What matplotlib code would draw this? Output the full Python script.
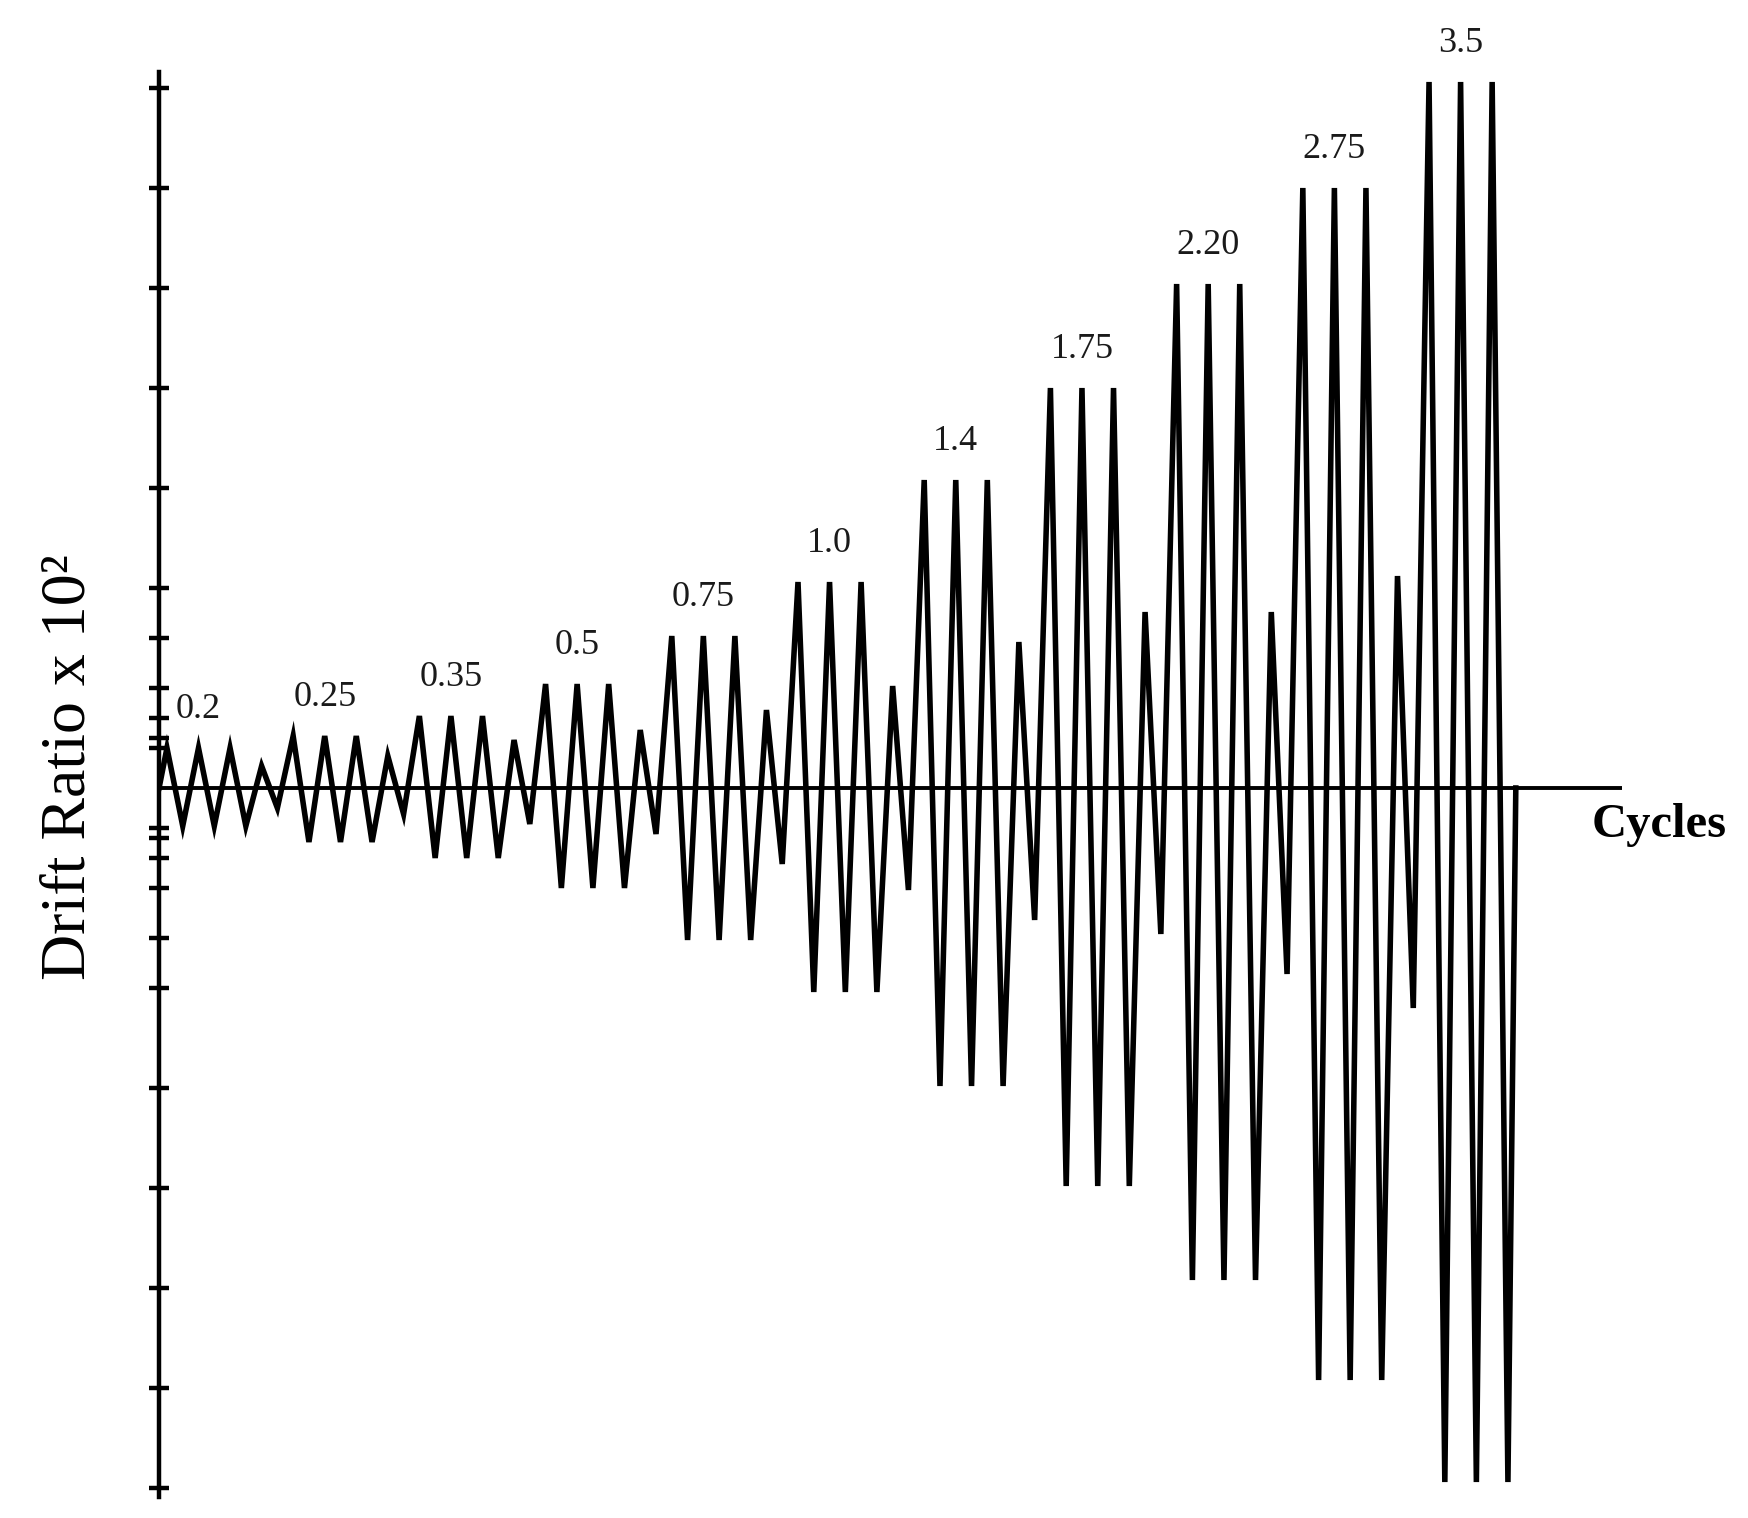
import numpy as np
import matplotlib.pyplot as plt

# --- DATA ---
# drift level labels printed above each group of cycles
level_labels = ['0.2', '0.25', '0.35', '0.5', '0.75', '1.0', '1.4', '1.75', '2.20', '2.75', '3.5']
# amplitude of the three main cycles of each group (as drawn)
main_pos = [0.20, 0.26, 0.36, 0.52, 0.76, 1.03, 1.54, 2.00, 2.52, 3.00, 3.53]
main_neg = [0.19, 0.27, 0.35, 0.50, 0.76, 1.02, 1.49, 1.99, 2.46, 2.96, 3.47]
# amplitude of the small cycle that follows each group (none after the last)
small_pos = [0.11, 0.16, 0.24, 0.29, 0.39, 0.51, 0.73, 0.88, 0.88, 1.06]
small_neg = [0.10, 0.13, 0.18, 0.23, 0.38, 0.51, 0.66, 0.73, 0.93, 1.10]
# tick marks on the vertical axis
tick_levels = [0.2, 0.25, 0.35, 0.5, 0.75, 1.0, 1.5, 2.0, 2.5, 3.0, 3.5]
CYCLES_PER_LEVEL = 3

# --- BUILD THE LOADING HISTORY (one unit of x per cycle) ---
cyc_pos, cyc_neg = [], []
for i in range(len(level_labels)):
    cyc_pos += [main_pos[i]] * CYCLES_PER_LEVEL
    cyc_neg += [main_neg[i]] * CYCLES_PER_LEVEL
    if i < len(small_pos):
        cyc_pos.append(small_pos[i])
        cyc_neg.append(small_neg[i])

xs, ys = [0.0], [0.0]
for k, (p, n) in enumerate(zip(cyc_pos, cyc_neg)):
    xs += [k + 0.25, k + 0.75]
    ys += [p, -n]
xs.append(len(cyc_pos))
ys.append(0.0)

# --- PLOT ---
plt.rcParams['font.family'] = ['Liberation Serif', 'DejaVu Serif']

fig = plt.figure(figsize=(17.48, 15.18), dpi=100, facecolor='white')
ax = fig.add_axes([0.0910, 0.0138, 0.8370, 0.9388])

ax.plot(xs, ys, color='black', lw=4.0, solid_joinstyle='miter', zorder=3)
ax.axhline(0, color='black', lw=2.8, zorder=4)

# group labels above the middle cycle of each group
for i, lab in enumerate(level_labels):
    xc = i * (CYCLES_PER_LEVEL + 1) + 1.25
    ax.text(xc, main_pos[i] + 0.19, lab, ha='center', va='center', fontsize=26, color='#1a1a1a')

ax.set_xlim(0, 46.37)
ax.set_ylim(-3.545, 3.58)

for s in ['top', 'right', 'bottom']:
    ax.spines[s].set_visible(False)
ax.spines['left'].set_linewidth(3.2)
ax.set_xticks([])
yt = [-v for v in tick_levels] + tick_levels
ax.set_yticks(yt)
ax.set_yticklabels([])
ax.tick_params(axis='y', direction='inout', length=14, width=3.2)

fig.text(0.0395, 0.4947, 'Drift Ratio x 10²', rotation=90, ha='center', va='center', fontsize=46)
fig.text(0.9108, 0.4565, 'Cycles', ha='left', va='center', fontsize=35, fontweight='bold')

fig.savefig('out.png', dpi=100, facecolor='white')
